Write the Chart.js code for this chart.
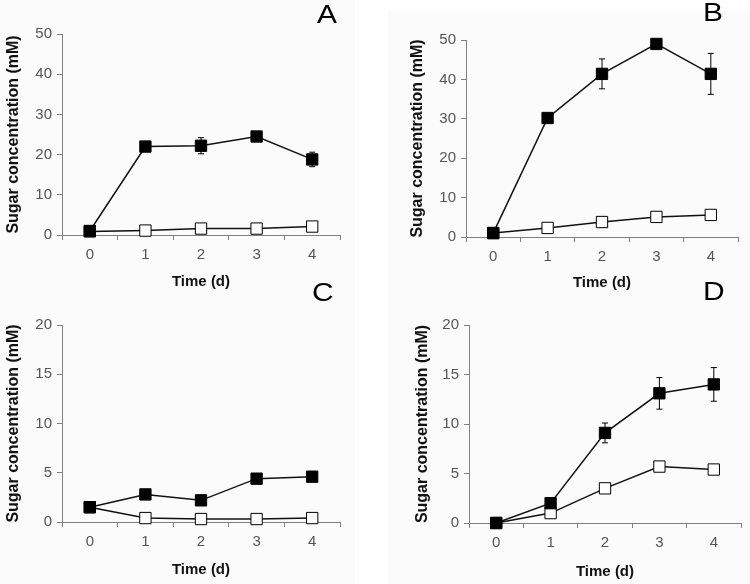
<!DOCTYPE html>
<html>
<head>
<meta charset="utf-8">
<script src="https://cdn.jsdelivr.net/npm/chart.js@4.4.1/dist/chart.umd.min.js"></script>
<style>
  body { margin: 0; width: 750px; height: 584px; background: #fff; position: relative; overflow: hidden; font-family: "Liberation Sans", Arial, sans-serif; }
  .bg { position: absolute; background: #fafbfa; }
  .box { position: absolute; width: 375px; height: 292px; }
  .letter { position: absolute; font-size: 26px; line-height: 1; color: #000; transform: scaleX(1.15); transform-origin: left top; }
</style>
</head>
<body>
<div class="bg" style="left:0;top:0;width:355px;height:584px"></div>
<div class="bg" style="left:388px;top:10px;width:362px;height:574px"></div>

<div class="box" style="left:0;top:0"><canvas id="chA"></canvas></div>
<div class="box" style="left:375px;top:0"><canvas id="chB"></canvas></div>
<div class="box" style="left:0;top:292px"><canvas id="chC"></canvas></div>
<div class="box" style="left:375px;top:292px"><canvas id="chD"></canvas></div>

<div class="letter" style="left:317px;top:1px">A</div>
<div class="letter" style="left:703px;top:-1px">B</div>
<div class="letter" style="left:312px;top:279px">C</div>
<div class="letter" style="left:703px;top:278px">D</div>

<script>
const dias = ['0', '1', '2', '3', '4'];

// panel A
const aLleno = [1.0, 22.0, 22.2, 24.5, 18.8];
const aLlenoErr = [0, 0, 2.0, 0, 1.8];
const aVacio = [0.9, 1.1, 1.6, 1.6, 2.1];
// panel B
const bLleno = [1.0, 30.2, 41.4, 49.0, 41.4];
const bLlenoErr = [0, 0, 3.8, 0, 5.2];
const bVacio = [1.0, 2.3, 3.8, 5.1, 5.6];
// panel C
const cLleno = [1.5, 2.8, 2.2, 4.4, 4.6];
const cLlenoErr = [0, 0, 0, 0, 0];
const cVacio = [1.5, 0.4, 0.3, 0.3, 0.4];
// panel D
const dLleno = [0, 2.0, 9.1, 13.1, 14.0];
const dLlenoErr = [0, 0, 1.0, 1.6, 1.7];
const dVacio = [0, 1.0, 3.5, 5.7, 5.4];

const fuente = '"Liberation Sans", Arial, sans-serif';
const gris = '#808080';

// barras de error debajo de los marcadores
const barrasError = {
  id: 'barrasError',
  beforeDatasetsDraw(chart) {
    const ctx = chart.ctx;
    const y = chart.scales.y;
    const meta = chart.getDatasetMeta(0);
    const ds = chart.data.datasets[0];
    ctx.save();
    ctx.strokeStyle = '#000';
    ctx.lineWidth = 1;
    meta.data.forEach((p, i) => {
      const e = ds.errores[i];
      if (!e) return;
      const top = y.getPixelForValue(ds.data[i] + e);
      const bot = y.getPixelForValue(ds.data[i] - e);
      ctx.beginPath();
      ctx.moveTo(p.x, top); ctx.lineTo(p.x, bot);
      ctx.moveTo(p.x - 3, top); ctx.lineTo(p.x + 3, top);
      ctx.moveTo(p.x - 3, bot); ctx.lineTo(p.x + 3, bot);
      ctx.stroke();
    });
    ctx.restore();
  }
};

function panel(id, lleno, err, vacio, max, paso, pad, yAncho, xAlto, tituloPad) {
  new Chart(document.getElementById(id), {
    type: 'line',
    data: {
      labels: dias,
      datasets: [
        {
          data: lleno, errores: err,
          borderColor: '#111', borderWidth: 1.5,
          pointStyle: 'rect', pointRadius: 8, pointBackgroundColor: '#000',
          pointBorderColor: '#000', pointBorderWidth: 1, clip: false
        },
        {
          data: vacio,
          borderColor: '#111', borderWidth: 1.5,
          pointStyle: 'rect', pointRadius: 8, pointBackgroundColor: '#fff',
          pointBorderColor: '#000', pointBorderWidth: 1, clip: false
        }
      ]
    },
    options: {
      responsive: false,
      animation: false,
      layout: { padding: pad },
      plugins: { legend: { display: false }, tooltip: { enabled: false } },
      scales: {
        x: {
          offset: true,
          grid: { offset: true, drawOnChartArea: false, tickLength: 5, color: gris },
          border: { color: gris },
          ticks: { color: '#555', padding: 6, font: { family: fuente, size: 15 } },
          title: { display: true, text: 'Time (d)', color: '#111', padding: { top: 0, bottom: tituloPad },
                   font: { family: fuente, size: 15, weight: 'bold' } },
          afterFit(s) { s.height = xAlto; }
        },
        y: {
          min: 0, max: max,
          grid: { drawOnChartArea: false, tickLength: 5, color: gris },
          border: { color: gris },
          ticks: { stepSize: paso, color: '#555', padding: 5, font: { family: fuente, size: 15 } },
          title: { display: true, text: 'Sugar concentration (mM)', color: '#111', padding: { top: 2, bottom: 0 },
                   font: { family: fuente, size: 16, weight: 'bold' } },
          afterFit(s) { s.width = yAncho; }
        }
      }
    },
    plugins: [barrasError]
  });
}

['chA', 'chB', 'chC', 'chD'].forEach(id => {
  const c = document.getElementById(id);
  c.width = 375; c.height = 292;
});

panel('chA', aLleno, aLlenoErr, aVacio, 50, 10, { left: 2, right: 35, top: 34, bottom: 0 }, 60, 57, 1);
panel('chB', bLleno, bLlenoErr, bVacio, 50, 10, { left: 31, right: 12, top: 40, bottom: 0 }, 60, 55, 0);
panel('chC', cLleno, cLlenoErr, cVacio, 20, 5, { left: 2, right: 35, top: 33, bottom: 0 }, 60, 62, 5);
panel('chD', dLleno, dLlenoErr, dVacio, 20, 5, { left: 36, right: 3, top: 33, bottom: 0 }, 58, 61, 3);
</script>
</body>
</html>
